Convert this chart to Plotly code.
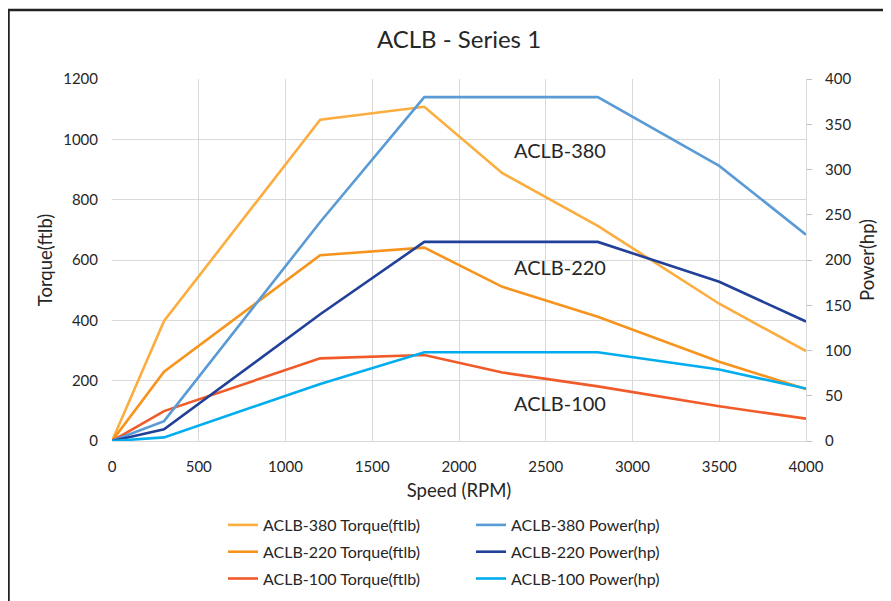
import plotly.graph_objects as go

speed = [0, 300, 1200, 1800, 2250, 2800, 3500, 4000]
torque_380 = [0, 398, 1065, 1108, 888, 713, 455, 298]
torque_220 = [0, 230, 616, 641, 511, 412, 263, 172]
torque_100 = [0, 99, 274, 285, 227, 181, 115, 74]
power_380 = [0, 22, 242, 380, 380, 380, 304, 228]
power_220 = [0, 13, 140, 220, 220, 220, 176, 132]
power_100 = [0, 4, 63, 98, 98, 98, 79, 58]

x_ticks = [0, 500, 1000, 1500, 2000, 2500, 3000, 3500, 4000]
y_ticks = [0, 200, 400, 600, 800, 1000, 1200]
y2_ticks = [0, 50, 100, 150, 200, 250, 300, 350, 400]

labels = ["ACLB-380", "ACLB-220", "ACLB-100"]
label_x = [2580, 2580, 2580]
label_y = [965, 577, 126]

FONT = "Lato, 'Open Sans', sans-serif"
TXT = "#262626"

# page body adds an 8px offset; figure is sized to fit the 891x601 window
OFF = 8
W, H = 891 - 2 * OFF, 601 - OFF
PL, PR, PT, PB = 112, 806, 79, 441          # plot area in window pixels
ML, MR, MT, MB = PL - OFF, W + OFF - PR, PT - OFF, H + OFF - PB
PW, PH = PR - PL, PB - PT

fig = go.Figure()

torque_series = [("ACLB-380 Torque(ftlb)", torque_380, "#FBAD3F"),
                 ("ACLB-220 Torque(ftlb)", torque_220, "#F7941D"),
                 ("ACLB-100 Torque(ftlb)", torque_100, "#F15A29")]
power_series = [("ACLB-380 Power(hp)", power_380, "#5B9BD5"),
                ("ACLB-220 Power(hp)", power_220, "#21409A"),
                ("ACLB-100 Power(hp)", power_100, "#00AEEF")]

for name, vals, col in torque_series:
    fig.add_trace(go.Scatter(x=speed, y=vals, name=name, mode="lines",
                             legendgroup=name,
                             line=dict(color=col, width=2.6), legend="legend"))
for name, vals, col in power_series:
    fig.add_trace(go.Scatter(x=speed, y=vals, name=name, mode="lines", yaxis="y2",
                             legendgroup=name,
                             line=dict(color=col, width=2.6), legend="legend2"))

for t, xv, yv in zip(labels, label_x, label_y):
    fig.add_annotation(x=xv, y=yv, text=t, showarrow=False,
                       font=dict(family=FONT, size=20, color=TXT))

def px_x(p):
    return (p - PL) / PW

def px_y(p):
    return (PB - p) / PH

# outer frame (left and top edges)
fig.add_shape(type="line", xref="paper", yref="paper",
              x0=px_x(8.5), x1=px_x(8.5), y0=px_y(9), y1=px_y(610),
              line=dict(color="#222222", width=2.5))
fig.add_shape(type="line", xref="paper", yref="paper",
              x0=px_x(7.5), x1=px_x(900), y0=px_y(10), y1=px_y(10),
              line=dict(color="#222222", width=2.5))

fig.update_layout(
    width=W, height=H,
    margin=dict(l=ML, r=MR, t=MT, b=MB, autoexpand=False),
    paper_bgcolor="white", plot_bgcolor="white",
    font=dict(family=FONT, color=TXT, size=15),
    title=dict(text="ACLB - Series 1", x=px_x(459), xanchor="center",
               xref="paper", y=1 - (40 - OFF) / H, yanchor="middle",
               font=dict(family=FONT, size=24, color=TXT)),
    xaxis=dict(range=[0, 4000], tickvals=x_ticks, showgrid=True,
               gridcolor="#D9D9D9", gridwidth=1, showline=True,
               linecolor="#D9D9D9", linewidth=1, zeroline=False,
               ticks="", ticklabelstandoff=12, tickfont=dict(size=15, color=TXT),
               title=dict(text="Speed (RPM)", font=dict(size=18.5, color=TXT), standoff=10)),
    yaxis=dict(range=[0, 1200], tickvals=y_ticks, showgrid=True,
               gridcolor="#D9D9D9", gridwidth=1, showline=False,
               zeroline=False, ticks="", ticklabelstandoff=13, tickfont=dict(size=15, color=TXT),
               title=dict(text="Torque(ftlb)", font=dict(size=18.5, color=TXT), standoff=5)),
    yaxis2=dict(range=[0, 400], tickvals=y2_ticks, overlaying="y", side="right",
                showgrid=False, showline=True, linecolor="#D9D9D9", linewidth=1,
                zeroline=False, ticks="outside", ticklen=5, tickcolor="#BFBFBF",
                ticklabelstandoff=10, tickfont=dict(size=15, color=TXT),
                title=dict(text="Power(hp)", font=dict(size=18.5, color=TXT), standoff=10)),
    legend=dict(x=px_x(223), y=px_y(508), xanchor="left", yanchor="top",
                orientation="v", font=dict(size=16, color=TXT),
                bgcolor="rgba(0,0,0,0)", tracegroupgap=3, itemwidth=30),
    legend2=dict(x=px_x(471), y=px_y(508), xanchor="left", yanchor="top",
                 orientation="v", font=dict(size=16, color=TXT),
                 bgcolor="rgba(0,0,0,0)", tracegroupgap=3, itemwidth=30),
    showlegend=True,
)

fig.write_html("out.html")
